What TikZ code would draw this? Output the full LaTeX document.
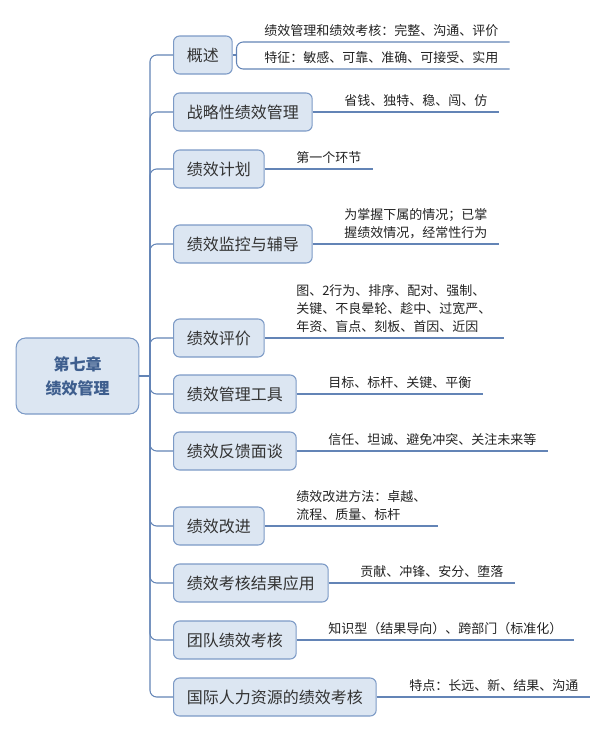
\documentclass[tikz,border=0pt]{standalone}
\usepackage{fontspec}
\setmainfont{Noto Sans CJK SC}
\usepackage{tikz}
\usetikzlibrary{positioning}

\definecolor{linkblue}{HTML}{6384B6}
\definecolor{boxfill}{HTML}{DCE6F2}
\definecolor{boxline}{HTML}{7C9AC6}
\definecolor{roottext}{HTML}{3E5E8E}
\definecolor{leaftext}{HTML}{222222}

\begin{document}
\begin{tikzpicture}[x=0.75pt, y=-0.75pt,
  link/.style={draw=linkblue, line width=0.8pt, rounded corners=5pt},
  root/.style={draw=boxline, fill=boxfill, line width=0.8pt, rounded corners=7pt,
               minimum width=92pt, minimum height=57pt, align=center, text=roottext,
               font=\fontsize{12pt}{18pt}\selectfont\bfseries},
  topic/.style={draw=boxline, fill=boxfill, line width=0.8pt, rounded corners=4.5pt,
                inner xsep=10pt, minimum height=28.5pt, anchor=west, text=black!80,
                font=\fontsize{12pt}{14pt}\selectfont},
  leaf/.style={anchor=south west, inner xsep=8.25pt, inner ysep=4pt, align=left,
               text=leaftext, font=\fontsize{9.75pt}{13.5pt}\selectfont}]
\useasboundingbox (0,0) rectangle (605,733);
% chapter
\node[root] (root) at (77.5,376) {第七章\\绩效管理};
\coordinate (hub) at (150,376);
\draw[link] (root.east) -- (hub);
% topics
\node[topic] (ovw) at (173,55) {概述};
\node[topic] (strat) at (173,112) {战略性绩效管理};
\node[topic] (plan) at (173,169) {绩效计划};
\node[topic] (monit) at (173,244) {绩效监控与辅导};
\node[topic] (appr) at (173,338) {绩效评价};
\node[topic] (tools) at (173,394) {绩效管理工具};
\node[topic] (feedb) at (173,451) {绩效反馈面谈};
\node[topic] (impr) at (173,526) {绩效改进};
\node[topic] (use) at (173,583) {绩效考核结果应用};
\node[topic] (team) at (173,640) {团队绩效考核};
\node[topic] (intl) at (173,697) {国际人力资源的绩效考核};
\foreach \t in {ovw,strat,plan,monit,appr,tools,feedb,impr,use,team,intl}
  \draw[link] (hub) |- (\t.west);
% details
\coordinate (fork) at (236.5,55);
\node[leaf] (ovw1) at (253,42) {绩效管理和绩效考核：完整、沟通、评价};
\node[leaf] (ovw2) at (253,69) {特征：敏感、可靠、准确、可接受、实用};
\draw[link] (ovw.east) -- (fork);
\draw[link] (fork) |- (ovw1.south west) -- (ovw1.south east);
\draw[link] (fork) |- (ovw2.south west) -- (ovw2.south east);
\node[leaf] (strat1) at (333,112) {省钱、独特、稳、闯、仿};
\node[leaf] (plan1) at (285,169) {第一个环节};
\node[leaf] (monit1) at (333,244) {为掌握下属的情况；已掌\\握绩效情况，经常性行为};
\node[leaf, text width=147pt] (appr1) at (285,338) {图、2行为、排序、配对、强制、\\关键、不良晕轮、趁中、过宽严、\\年资、盲点、刻板、首因、近因};
\node[leaf] (tools1) at (317,394) {目标、标杆、关键、平衡};
\node[leaf] (feedb1) at (317,451) {信任、坦诚、避免冲突、关注未来等};
\node[leaf] (impr1) at (285,526) {绩效改进方法：卓越、\\流程、质量、标杆};
\node[leaf] (use1) at (349,583) {贡献、冲锋、安分、堕落};
\node[leaf] (team1) at (317,640) {知识型（结果导向）、跨部门（标准化）};
\node[leaf] (intl1) at (398,697) {特点：长远、新、结果、沟通};
\draw[link] (strat.east) -- (strat1.south east); \draw[link] (plan.east) -- (plan1.south east);
\draw[link] (monit.east) -- (monit1.south east); \draw[link] (appr.east) -- (appr1.south east);
\draw[link] (tools.east) -- (tools1.south east); \draw[link] (feedb.east) -- (feedb1.south east);
\draw[link] (impr.east) -- (impr1.south east); \draw[link] (use.east) -- (use1.south east);
\draw[link] (team.east) -- (team1.south east); \draw[link] (intl.east) -- (intl1.south east);
\end{tikzpicture}
\end{document}
